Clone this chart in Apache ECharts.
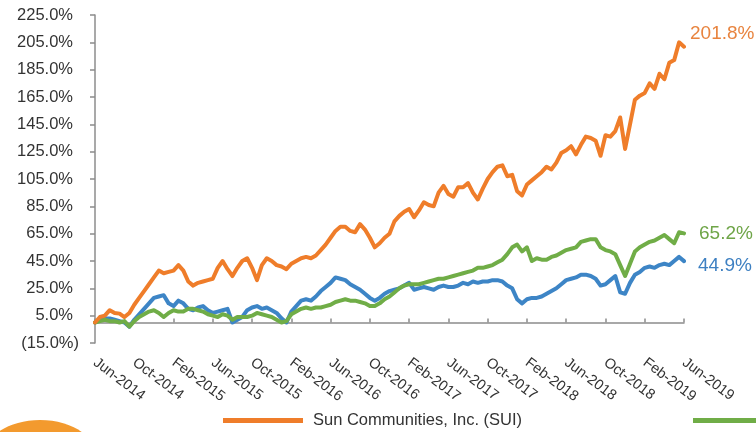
<!DOCTYPE html>
<html>
<head>
<meta charset="utf-8">
<script src="https://cdn.jsdelivr.net/npm/echarts@6/dist/echarts.min.js"></script>
<style>
  html, body { margin: 0; padding: 0; background: #ffffff; }
  #chart { width: 756px; height: 432px; }
</style>
</head>
<body>
<div id="chart"></div>
<script>
// Cumulative total return since June 2014, sampled twice a month (Jun-2014 .. Jun-2019)
const MONTH_NAMES = ['Jan', 'Feb', 'Mar', 'Apr', 'May', 'Jun', 'Jul', 'Aug', 'Sep', 'Oct', 'Nov', 'Dec'];

const seriesNames = ['Sun Communities, Inc. (SUI)', 'S&P 500 Index', 'MSCI US REIT Index (RMS)'];

const suiReturn = [
  0, 4, 5, 9, 7, 6.5, 4, 7, 13, 18,
  23, 28, 33, 38, 36, 37, 38, 42, 38, 30,
  27, 29, 30, 31, 32, 40, 45, 39, 34, 40,
  45, 47, 40, 31, 42, 47, 45, 42, 41, 39,
  43, 45, 47, 48, 47, 49, 53, 57, 62, 67,
  70, 70, 67, 66, 72, 68, 62, 55, 58, 62,
  65, 74, 78, 81, 83, 77, 82, 88, 86, 85,
  95, 100, 94, 92, 99, 99, 102, 95, 90, 98,
  105, 110, 114, 115, 107, 108, 96, 93, 101, 104,
  107, 110, 114, 112, 117, 124, 126, 129, 123, 130,
  136, 135, 133, 122, 137, 136, 140, 150, 127, 145,
  163, 166, 168, 175, 171, 182, 178, 190, 192, 205,
  201.8
];

const spxReturn = [
  0, 1, 2, 1, 1, 0, 1, -3, 1, 4,
  6, 8, 9, 7, 4, 7, 9, 8, 8, 10,
  10, 9, 8, 6, 5, 4, 6, 5, 2, 4,
  4, 4, 5, 7, 6, 5, 4, 2, 0, 1,
  6, 8, 10, 11, 10, 11, 11, 12, 13, 15,
  16, 17, 16, 16, 15, 14, 12, 12, 14, 17,
  19, 22, 25, 27, 28, 28, 28, 29, 30, 31,
  32, 32, 33, 34, 35, 36, 37, 38, 40, 40,
  41, 42, 44, 46, 50, 55, 57, 52, 55, 45,
  47, 46, 46, 48, 49, 51, 53, 54, 55, 59,
  60, 61, 61, 55, 53, 52, 50, 42, 34, 43,
  52, 55, 57, 59, 60, 62, 64, 61, 58, 66,
  65.2
];

const rmsReturn = [
  0, 2, 3, 3, 2, 1, 0, -3, 2, 6,
  10, 14, 18, 19, 20, 14, 12, 16, 14, 10,
  9, 11, 12, 9, 7, 8, 9, 10, 0, 2,
  4, 9, 11, 12, 10, 11, 9, 7, 3, 0,
  8, 12, 16, 17, 16, 19, 23, 26, 29, 33,
  32, 31, 28, 26, 24, 21, 18, 16, 18, 21,
  23, 24, 25, 27, 29, 24, 25, 26, 25, 24,
  26, 27, 26, 26, 27, 29, 28, 30, 29, 30,
  30, 31, 31, 30, 27, 25, 17, 14, 17, 18,
  18, 19, 21, 23, 25, 28, 31, 32, 33, 35,
  35, 34, 32, 27, 28, 31, 34, 22, 21, 29,
  35, 37, 40, 41, 40, 42, 43, 42, 45, 48,
  44.9
];

// Half-month periods on the category axis: 1st and 16th of each month
const periods = [];
for (let i = 0; i < suiReturn.length; i++) {
  const monthIndex = 5 + Math.floor(i / 2);
  const year = 2014 + Math.floor(monthIndex / 12);
  const month = monthIndex % 12;
  periods.push(year + '-' + String(month + 1).padStart(2, '0') + (i % 2 ? '-16' : '-01'));
}

const yTicks = { min: -15, max: 225, step: 20 };

const colors = { sui: '#EF7D2A', spx: '#70AD47', rms: '#3D85C6' };
const labelColors = { sui: '#E8843F', spx: '#6FA548', rms: '#3E80C2' };

const FONT = '"Liberation Sans", Arial, Helvetica, sans-serif';

function periodLabel(value) {
  const parts = value.split('-');
  return MONTH_NAMES[Number(parts[1]) - 1] + '-' + parts[0];
}

function pctLabel(v) {
  return v < 0 ? '{n|(' + Math.abs(v).toFixed(1) + '%)}' : '{p|' + v.toFixed(1) + '%}';
}

function endLabel(color, offset) {
  return {
    show: true,
    formatter: p => Number(p.value).toFixed(1) + '%',
    color: color,
    fontSize: 19,
    fontFamily: FONT,
    offset: offset
  };
}

function lineSeries(name, data, color, z, labelColor, offset) {
  return {
    name: name,
    type: 'line',
    data: data,
    symbol: 'none',
    z: z,
    color: color,
    lineStyle: { color: color, width: 4, join: 'round', cap: 'round' },
    endLabel: endLabel(labelColor, offset),
    emphasis: { disabled: true }
  };
}

const chart = echarts.init(document.getElementById('chart'), null, { renderer: 'canvas' });

const legendBase = {
  orient: 'horizontal',
  top: 412,
  padding: 0,
  itemGap: 0,
  itemWidth: 80,
  itemHeight: 5,
  icon: 'rect',
  selectedMode: false,
  textStyle: { fontSize: 16.5, fontFamily: FONT, color: '#333333', padding: [0, 0, 0, 5] }
};

chart.setOption({
  animation: false,
  backgroundColor: '#ffffff',
  grid: { left: 95, right: 72, top: 15, bottom: 89, outerBoundsMode: 'none' },
  legend: [
    Object.assign({}, legendBase, { left: 223, data: [seriesNames[0]] }),
    Object.assign({}, legendBase, { left: 693, data: [seriesNames[1]] })
  ],
  xAxis: {
    type: 'category',
    data: periods,
    boundaryGap: false,
    axisLine: { onZero: true, lineStyle: { color: '#8C8C8C', width: 1.5 } },
    axisTick: { show: true, inside: true, length: 4, interval: 7, lineStyle: { color: '#8C8C8C', width: 1.5 } },
    axisLabel: {
      interval: 7,
      rotate: -37,
      margin: 18,
      fontSize: 14.5,
      fontFamily: FONT,
      color: '#333333',
      formatter: periodLabel
    },
    splitLine: { show: false }
  },
  yAxis: {
    type: 'value',
    min: yTicks.min,
    max: yTicks.max,
    interval: yTicks.step,
    axisLine: { show: true, onZero: false, lineStyle: { color: '#8C8C8C', width: 1.5 } },
    axisTick: { show: true, length: 5, lineStyle: { color: '#8C8C8C', width: 1.5 } },
    axisLabel: {
      margin: 16,
      formatter: pctLabel,
      rich: {
        p: { fontSize: 16.5, fontFamily: FONT, color: '#333333', padding: [0, 6, 0, 0] },
        n: { fontSize: 16.5, fontFamily: FONT, color: '#333333' }
      }
    },
    splitLine: { show: false }
  },
  graphic: [
    {
      type: 'ellipse',
      shape: { cx: 40, cy: 456, rx: 56, ry: 36 },
      style: { fill: '#F39A2E' },
      silent: true
    }
  ],
  series: [
    lineSeries(seriesNames[2], rmsReturn, colors.rms, 2, labelColors.rms, [6, 5]),
    lineSeries(seriesNames[1], spxReturn, colors.spx, 3, labelColors.spx, [7, 0]),
    lineSeries(seriesNames[0], suiReturn, colors.sui, 4, labelColors.sui, [-2, -13])
  ]
});
</script>
</body>
</html>
